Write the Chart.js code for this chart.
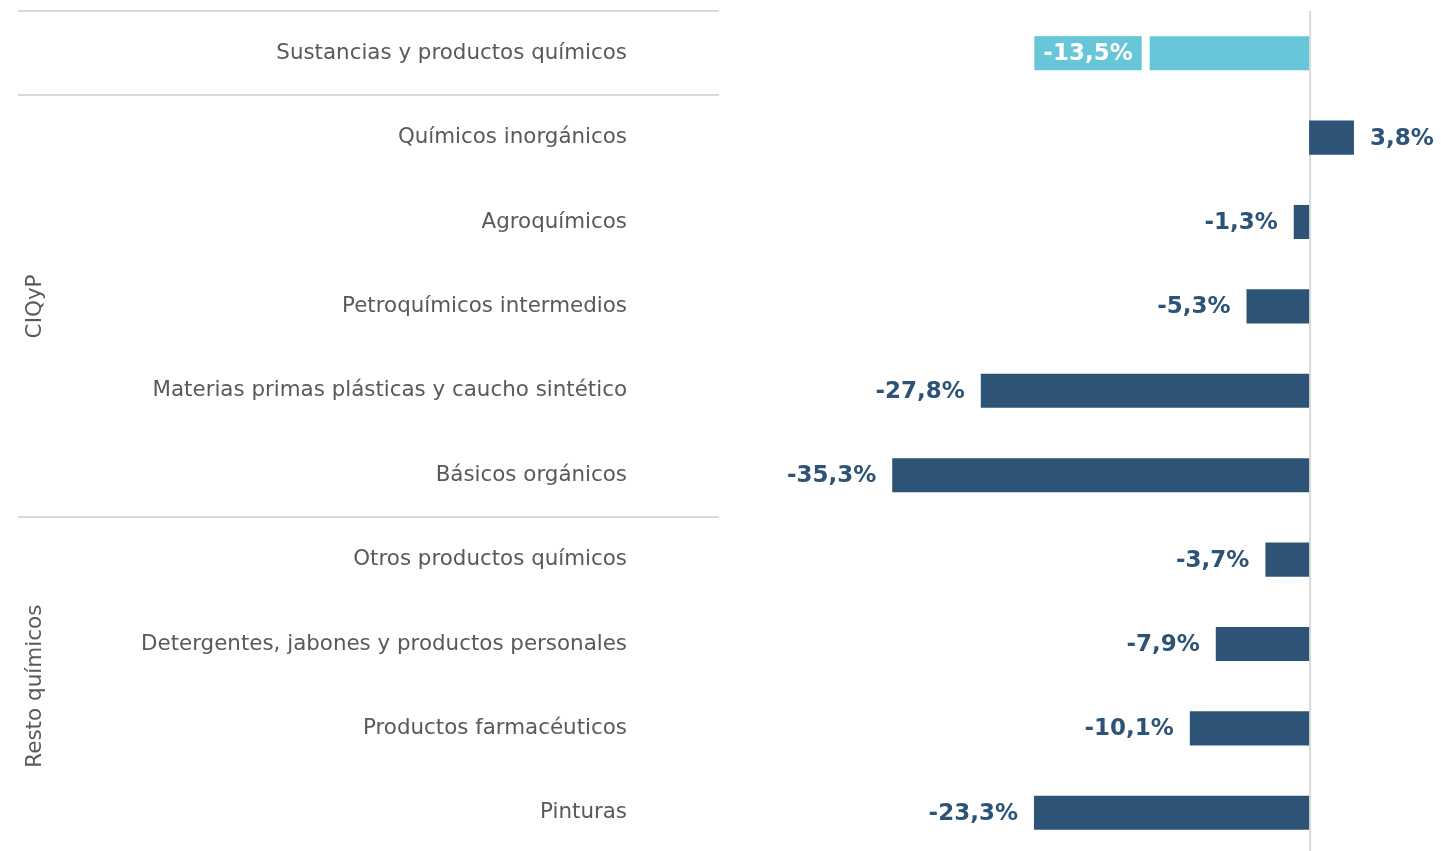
<!DOCTYPE html>
<html>
<head>
<meta charset="utf-8">
<script src="https://cdn.jsdelivr.net/npm/chart.js@4"></script>
<style>
  html, body { margin: 0; padding: 0; background: #fff; overflow: hidden; }
  #wrap { width: 1441px; height: 855px; position: relative; }
</style>
</head>
<body>
<div id="wrap"><canvas id="Variacion"></canvas></div>
<script>
// Categories and values (% change)
const categories = [
    'Sustancias y productos químicos',
    'Químicos inorgánicos',
    'Agroquímicos',
    'Petroquímicos intermedios',
    'Materias primas plásticas y caucho sintético',
    'Básicos orgánicos',
    'Otros productos químicos',
    'Detergentes, jabones y productos personales',
    'Productos farmacéuticos',
    'Pinturas'
];
const values = [-13.5, 3.8, -1.3, -5.3, -27.8, -35.3, -3.7, -7.9, -10.1, -23.3];
const groups = [
    { label: 'CIQyP', from: 1, to: 5 },
    { label: 'Resto químicos', from: 6, to: 9 }
];
const separators = [0, 1, 6]; // line drawn above these rows

const navy = '#2D5477';
const lightBlue = '#67C7D9';
const gray = '#595959';
const lineGray = '#D9D9D9';
const FONT = 'DejaVu Sans';

function fmt(v) {
    return v.toFixed(1).replace('.', ',') + '%';
}

const decorations = {
    id: 'decorations',
    beforeDatasetsDraw(chart) {
        const ctx = chart.ctx;
        const x = chart.scales.x;
        const y = chart.scales.y;
        const band = y.getPixelForValue(1) - y.getPixelForValue(0);
        ctx.save();
        ctx.strokeStyle = lineGray;
        ctx.lineWidth = 2;
        // separators on the label side
        separators.forEach(i => {
            const py = Math.round(y.getPixelForValue(i) - band / 2);
            ctx.beginPath();
            ctx.moveTo(18, py);
            ctx.lineTo(719, py);
            ctx.stroke();
        });
        // zero line
        const zx = x.getPixelForValue(0) + 1;
        ctx.beginPath();
        ctx.moveTo(zx, chart.chartArea.top);
        ctx.lineTo(zx, chart.chartArea.bottom);
        ctx.stroke();
        // group labels
        ctx.fillStyle = gray;
        ctx.font = '21.5px ' + FONT;
        ctx.textAlign = 'center';
        ctx.textBaseline = 'middle';
        groups.forEach(g => {
            const cy = (y.getPixelForValue(g.from) + y.getPixelForValue(g.to)) / 2;
            ctx.save();
            ctx.translate(35, cy);
            ctx.rotate(-Math.PI / 2);
            ctx.fillText(g.label, 0, 0);
            ctx.restore();
        });
        ctx.restore();
    },
    afterDatasetsDraw(chart) {
        const ctx = chart.ctx;
        const meta = chart.getDatasetMeta(0);
        ctx.save();
        ctx.font = 'bold 23px ' + FONT;
        ctx.textBaseline = 'middle';
        meta.data.forEach((bar, i) => {
            const v = values[i];
            const text = fmt(v);
            if (i === 0) {
                // highlighted total: label in a box of the bar colour
                const w = ctx.measureText(text).width;
                const right = bar.x - 8;
                const left = right - w - 18;
                const top = bar.y - bar.height / 2;
                ctx.fillStyle = lightBlue;
                ctx.fillRect(left, top, right - left, bar.height);
                ctx.fillStyle = '#fff';
                ctx.textAlign = 'left';
                ctx.fillText(text, left + 9, bar.y + 1);
                return;
            }
            ctx.fillStyle = navy;
            if (v < 0) {
                ctx.textAlign = 'right';
                ctx.fillText(text, bar.x - 16, bar.y + 1);
            } else {
                ctx.textAlign = 'left';
                ctx.fillText(text, bar.x + 16, bar.y + 1);
            }
        });
        ctx.restore();
    }
};

new Chart(document.getElementById('Variacion'), {
    type: 'bar',
    data: {
        labels: categories,
        datasets: [{
            data: values,
            backgroundColor: values.map((v, i) => i === 0 ? lightBlue : navy),
            barPercentage: 0.8,
            categoryPercentage: 0.505
        }]
    },
    options: {
        indexAxis: 'y',
        responsive: true,
        maintainAspectRatio: false,
        animation: false,
        layout: { padding: { top: 11, right: 0, bottom: 0, left: 0 } },
        plugins: {
            legend: { display: false },
            tooltip: { enabled: false }
        },
        scales: {
            x: {
                display: false,
                min: -56.66,
                max: 11.17
            },
            y: {
                afterFit(scale) {
                    scale.width = 640;
                    scale.paddingTop = 0;
                    scale.paddingBottom = 0;
                },
                grid: { display: false, drawTicks: false },
                border: { display: false },
                ticks: {
                    autoSkip: false,
                    padding: 13,
                    color: gray,
                    font: { family: FONT, size: 21.4 }
                }
            }
        }
    },
    plugins: [decorations]
});
</script>
</body>
</html>
